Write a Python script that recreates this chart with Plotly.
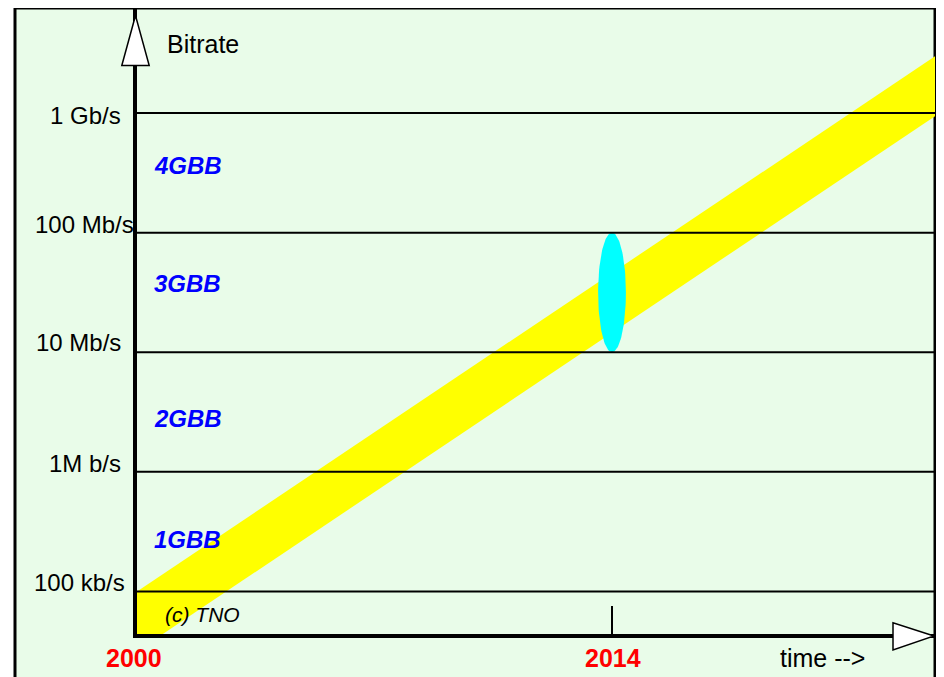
import numpy as np
import plotly.graph_objects as go

# ---------------- data ----------------
level_bps = [1e5, 1e6, 1e7, 1e8, 1e9]
level_labels = ["100 kb/s", "1M b/s", "10 Mb/s", "100 Mb/s", "1 Gb/s"]
gen_labels = ["1GBB", "2GBB", "3GBB", "4GBB"]
year_ticks = [2000, 2014]
year_labels = ["2000", "2014"]
band_years = [2000, 2024]
band_upper_bps = [1.0e5, 3.67e9]
band_lower_bps = [3.16e4, 1.16e9]
highlight_year = 2014
highlight_bps = [1e7, 1e8]
highlight_halfwidth_years = 0.41

# ---------------- layout geometry ----------------
# the page body adds an 8px margin, so the figure is shifted by 8px
OFF = 8
RIGHT_EDGE = 935          # visible right frame edge (page pixels)
W, H = 944 - OFF, 677 - OFF
L, T, B = 137 - OFF, 9 - OFF, 43
R = W - (RIGHT_EDGE - OFF)
PW, PH = W - L - R, H - T - B
PX_PER_YEAR = (612 - 137) / 14.0
X_RANGE = [2000, 2000 + PW / PX_PER_YEAR]
Y_RANGE = [4.6447, 9.8694]  # log10 bitrate

def xp(px):
    return (px - OFF - L) / PW

def yp(py):
    return (T + PH - (py - OFF)) / PH

FONT = "Liberation Sans, Arial, sans-serif"
BG = "#E9FCE9"

fig = go.Figure()

# yellow band
fig.add_trace(go.Scatter(x=band_years, y=band_lower_bps, mode="lines",
                         line=dict(width=0, color="#FFFF00"),
                         hoverinfo="skip", showlegend=False))
fig.add_trace(go.Scatter(x=band_years, y=band_upper_bps, mode="lines",
                         fill="tonexty", fillcolor="#FFFF00",
                         line=dict(width=0, color="#FFFF00"),
                         hoverinfo="skip", showlegend=False))

# cyan ellipse
t = np.linspace(0, 2 * np.pi, 120)
lv = np.log10(highlight_bps)
ex = highlight_year + highlight_halfwidth_years * np.cos(t)
ey = 10 ** (lv.mean() + (lv[1] - lv[0]) / 2 * np.sin(t))
fig.add_trace(go.Scatter(x=ex, y=ey, mode="lines", fill="toself",
                         fillcolor="#00FFFF", line=dict(width=0, color="#00FFFF"),
                         hoverinfo="skip", showlegend=False))

# horizontal level lines
lx, ly = [], []
for v in level_bps:
    lx += [X_RANGE[0], X_RANGE[1], None]
    ly += [v, v, None]
fig.add_trace(go.Scatter(x=lx, y=ly, mode="lines",
                         line=dict(width=2, color="black"),
                         hoverinfo="skip", showlegend=False))

shapes = [
    dict(type="rect", xref="paper", yref="paper",
         x0=xp(15), x1=xp(RIGHT_EDGE), y0=-0.3, y1=yp(8),
         fillcolor=BG, line=dict(color="black", width=3), layer="below"),
    dict(type="path", xref="paper", yref="paper",
         xsizemode="pixel", ysizemode="pixel", xanchor=0, yanchor=1,
         path="M -1.5,-6.5 L -15.2,-56.5 L 12.2,-56.5 Z",
         fillcolor="white", line=dict(color="black", width=1.5), layer="above"),
    dict(type="path", xref="paper", yref="paper",
         xsizemode="pixel", ysizemode="pixel", xanchor=1, yanchor=0,
         path="M -1,-2 L -42,11.3 L -42,-16 Z",
         fillcolor="white", line=dict(color="black", width=1.5), layer="above"),
]

ann = []
ann.append(dict(text="Bitrate", x=xp(165), y=yp(44), xref="paper", yref="paper",
                xanchor="left", yanchor="middle", showarrow=False,
                font=dict(family=FONT, size=25, color="black")))
lab_cx = [79.5, 85, 78, 84, 85]
lab_shift = [9.5, 8, 10, 8.5, -2]
for v, txt, cx, sh in zip(level_bps, level_labels, lab_cx, lab_shift):
    ann.append(dict(text=txt, x=xp(cx), y=np.log10(v), xref="paper", yref="y",
                    yshift=sh, xanchor="center", yanchor="middle", showarrow=False,
                    font=dict(family=FONT, size=24, color="black")))
gen_cy = [539, 418, 284, 165]
for txt, cy in zip(gen_labels, gen_cy):
    ann.append(dict(text=txt, x=xp(152), y=yp(cy), xref="paper", yref="paper",
                    xanchor="left", yanchor="middle", showarrow=False,
                    font=dict(family=FONT, size=24, color="#0000FF",
                              weight="bold", style="italic")))
for yr, txt, sh in zip(year_ticks, year_labels, [-3, 0.5]):
    ann.append(dict(text=txt, x=yr, y=yp(658), xref="x", yref="paper", xshift=sh,
                    xanchor="center", yanchor="middle", showarrow=False,
                    font=dict(family=FONT, size=25, color="#FF0000", weight="bold")))
ann.append(dict(text="time -->", x=xp(778), y=yp(658), xref="paper", yref="paper",
                xanchor="left", yanchor="middle", showarrow=False,
                font=dict(family=FONT, size=25, color="black")))
ann.append(dict(text="(c) TNO", x=xp(163), y=yp(614), xref="paper", yref="paper",
                xanchor="left", yanchor="middle", showarrow=False,
                font=dict(family=FONT, size=21, color="black", style="italic")))

fig.update_layout(
    width=W, height=H,
    margin=dict(l=L, r=R, t=T, b=B, pad=0),
    paper_bgcolor="white", plot_bgcolor="rgba(0,0,0,0)",
    showlegend=False,
    shapes=shapes, annotations=ann,
    xaxis=dict(range=X_RANGE, showline=True, linewidth=3.5, linecolor="black",
               ticks="inside", tickvals=[highlight_year], ticklen=28, tickwidth=2,
               tickcolor="black", showticklabels=False, showgrid=False,
               zeroline=False, fixedrange=True),
    yaxis=dict(type="log", range=Y_RANGE, showline=True, linewidth=3.5,
               linecolor="black", ticks="", showticklabels=False,
               showgrid=False, zeroline=False, fixedrange=True),
)

fig.write_html("out.html", config={"displayModeBar": False})
